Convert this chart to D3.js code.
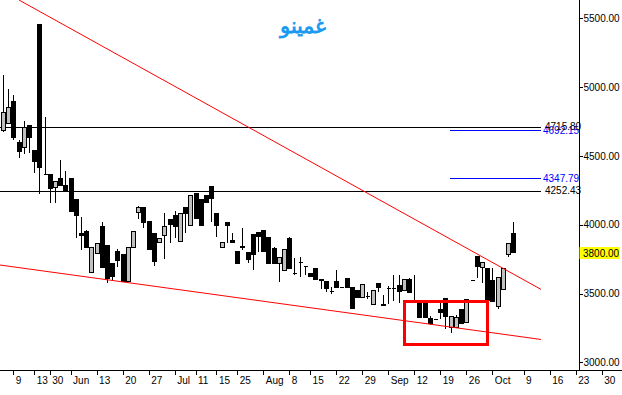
<!DOCTYPE html>
<html><head><meta charset="utf-8">
<script src="https://cdn.jsdelivr.net/npm/d3@7"></script>
<style>
html,body{margin:0;padding:0;background:#fff;}
svg{display:block;}
text{font-family:"Liberation Sans",Arial,sans-serif;}
</style>
</head><body>
<svg id="chart" width="622" height="395"></svg>
<script>
// ---------- DATA ----------
const title = "غمینو";
const opens  = [4688,4739,4899,4601,4565,4724,4543,5458,4368,4368,4274,4339,4288,4339,4187,3940,3954,3656,3794,3990,3852,3722,3809,3787,3591,3838,4092,4129,4027,3940,3874,3925,4041,4070,3881,4129,3998,4230,4187,4216,4281,4085,3838,4020,3889,3809,3845,3802,3932,3947,3961,3911,3831,3722,3671,3903,3649,3729,3700,3649,3685,3605,3591,3518,3591,3547,3613,3547,3525,3475,3482,3424,3576,3424,3540,3540,3562,3525,3605,3453,3445,3453,3322,3315,3387,3467,3257,3257,3387,3293,3598,3772,3693,3685,3598,3409,3533,3787,3940];
const highs  = [5088,4986,4942,4615,4754,4724,4543,5458,4783,4368,4318,4470,4390,4339,4187,4056,3961,3838,3867,4020,3852,3722,3823,3787,3838,3954,4136,4129,4027,3940,3903,4085,4041,4099,4085,4129,4216,4230,4187,4216,4281,4085,3874,4020,3940,3809,3976,3802,3932,3947,3961,3911,3838,3765,3823,3911,3758,3765,3700,3649,3685,3605,3591,3547,3671,3547,3613,3547,3525,3569,3511,3525,3576,3489,3554,3634,3634,3605,3613,3634,3445,3453,3336,3315,3438,3467,3336,3344,3387,3460,3598,3772,3729,3685,3685,3620,3685,3867,4020];
const lows   = [4680,4739,4623,4492,4521,4528,4383,4230,4368,4165,4165,4288,4245,4099,3911,3823,3838,3656,3794,3693,3584,3598,3700,3591,3591,3838,4049,3983,3823,3707,3874,3758,3874,3911,3881,3947,3998,4049,3998,4165,4027,3918,3838,3874,3874,3722,3823,3729,3678,3809,3809,3722,3722,3591,3671,3685,3642,3627,3642,3627,3605,3540,3518,3504,3547,3547,3547,3395,3475,3475,3467,3424,3518,3416,3431,3453,3438,3525,3511,3445,3329,3329,3278,3315,3322,3249,3220,3257,3286,3293,3598,3620,3584,3453,3445,3395,3533,3772,3800];
const closes = [4819,4855,4637,4535,4710,4637,4463,4419,4368,4267,4318,4288,4245,4099,4070,3925,3838,3838,3867,3693,3613,3627,3743,3591,3838,3954,4129,4020,3823,3736,3903,3990,4005,3990,4085,4085,4216,4049,3998,4165,4194,3998,3874,3998,3874,3722,3838,3751,3787,3918,3809,3722,3722,3765,3823,3685,3649,3729,3700,3627,3605,3598,3540,3518,3547,3547,3547,3395,3475,3569,3482,3525,3547,3416,3540,3540,3518,3605,3511,3453,3329,3329,3286,3315,3366,3336,3336,3329,3286,3460,3598,3700,3729,3453,3445,3620,3685,3867,3800];

const xTickIndex  = [2,6,9,13,18,23,28,33,37,41,45,50,55,59,64,69,74,79,84,89,94,100,105,110,115];
const xTickLabels = ["9","13","30","Jun","13","20","27","Jul","11","15","25","Aug","8","15","22","29","Sep","12","19","26","Oct","9","16","23","30"];
const yTicks = [3000,3500,4000,4500,5000,5500];

// horizontal levels: value, start index (black = full length, blue = short)
const blackLevels = [4715.80, 4252.43];
const blackLevelStart = [-1, -1];
const blueLevels = [4692.15, 4347.79];
const blueLevelStart = [85.9, 85.9];
const levelEnd = 103.3;

// trend lines: [index, price] pairs
const upperTrend = [[3.09, 5633], [103.34, 3530]];
const lowerTrend = [[-0.56, 3707], [103.34, 3166]];
// highlighted box: index range & price range
const boxIndex = [77.2, 93.0];
const boxPrice = [3445, 3126];

// ---------- SCALES ----------
const W = 622, H = 395;
const axisX = 579.5, axisY = 370.5;
const x = d3.scaleLinear().domain([2, 115]).range([13.3, 601.7]);
const y = d3.scaleLinear().domain([3000, 5500]).range([362.3, 18.3]);

const svg = d3.select("#chart");
svg.append("rect").attr("width", W).attr("height", H).attr("fill", "#fff");

svg.append("defs").append("clipPath").attr("id", "plot")
  .append("rect").attr("x", 0).attr("y", 0).attr("width", axisX).attr("height", axisY);

const plot = svg.append("g").attr("clip-path", "url(#plot)");

// level lines
const lvl = plot.append("g").attr("shape-rendering", "crispEdges");
blackLevels.forEach((v, k) => {
  const yy = Math.round(y(v)) + 1.5;
  lvl.append("line").attr("x1", Math.max(0, x(blackLevelStart[k]))).attr("x2", x(levelEnd))
    .attr("y1", yy).attr("y2", yy).attr("stroke", "#000").attr("stroke-width", 1);
});
blueLevels.forEach((v, k) => {
  const yy = Math.round(y(v)) + 1.5;
  lvl.append("line").attr("x1", x(blueLevelStart[k])).attr("x2", x(levelEnd))
    .attr("y1", yy).attr("y2", yy).attr("stroke", "#0000ff").attr("stroke-width", 1);
});

// candles
const idx = d3.range(opens.length);
const cg = plot.append("g").attr("shape-rendering", "crispEdges");
idx.forEach(i => {
  const cx = Math.round(x(i));
  const o = opens[i], c = closes[i], hi = highs[i], lo = lows[i];
  const top = Math.round(y(Math.max(o, c))) + 0.5;
  const bot = Math.round(y(Math.min(o, c))) + 0.5;
  cg.append("line").attr("x1", cx + 0.5).attr("x2", cx + 0.5)
    .attr("y1", Math.round(y(hi))).attr("y2", Math.round(y(lo)) + 1)
    .attr("stroke", "#000").attr("stroke-width", 1);
  const up = c > o;
  const x0 = cx - 2 + 0.5, x1 = cx + 2 + 0.5;
  cg.append("path")
    .attr("d", `M${x0},${top}H${x1}V${bot}H${x0}Z`)
    .attr("fill", up ? "#c0c0c0" : "#000")
    .attr("stroke", "#000").attr("stroke-width", 1);
});

// trend lines
const line = d3.line().x(d => x(d[0])).y(d => y(d[1]));
plot.append("path").attr("d", line(upperTrend)).attr("fill", "none")
  .attr("stroke", "#ff0000").attr("stroke-width", 1);
plot.append("path").attr("d", line(lowerTrend)).attr("fill", "none")
  .attr("stroke", "#ff0000").attr("stroke-width", 1);

// highlight box
plot.append("rect")
  .attr("x", x(boxIndex[0])).attr("y", y(boxPrice[0]))
  .attr("width", x(boxIndex[1]) - x(boxIndex[0]))
  .attr("height", y(boxPrice[1]) - y(boxPrice[0]))
  .attr("fill", "none").attr("stroke", "#ff0000").attr("stroke-width", 3)
  .attr("shape-rendering", "crispEdges");

// level labels
const lblG = svg.append("g").attr("font-size", "10px");
blueLevels.forEach(v => {
  lblG.append("text").attr("x", 543).attr("y", y(v) + 1.5).attr("dy", "0.35em")
    .attr("fill", "#0000ff").text(v.toFixed(2));
});
blackLevels.forEach(v => {
  lblG.append("text").attr("x", 545).attr("y", y(v) + 0.5).attr("dy", "0.35em")
    .attr("fill", "#000").text(v.toFixed(2));
});

// title
svg.append("text").attr("x", 303).attr("y", 33).attr("text-anchor", "middle")
  .attr("font-family", "DejaVu Sans").attr("font-weight", "bold").attr("font-size", "21px")
  .attr("fill", "#1a9af0").text(title);

// axes
const ax = svg.append("g").attr("shape-rendering", "crispEdges");
ax.append("line").attr("x1", axisX).attr("x2", axisX).attr("y1", 0).attr("y2", axisY)
  .attr("stroke", "#000");
ax.append("line").attr("x1", 0).attr("x2", W).attr("y1", axisY).attr("y2", axisY)
  .attr("stroke", "#000");

const yAx = svg.append("g").attr("transform", `translate(${axisX},0)`)
  .call(d3.axisRight(y).tickValues(yTicks).tickSize(3).tickPadding(1).tickFormat(d => d.toFixed(2)));
yAx.select(".domain").remove();
yAx.selectAll("line").attr("shape-rendering", "crispEdges");
yAx.selectAll("text").attr("font-family", "Liberation Sans").attr("font-size", "10px").attr("fill", "#000");

// current price marker
const last = closes[closes.length - 1];
const py = y(last);
svg.append("rect").attr("x", axisX).attr("y", Math.round(py) - 5).attr("width", 40).attr("height", 12)
  .attr("fill", "#ffff00");
svg.append("text").attr("x", 583).attr("y", py + 1).attr("dy", "0.35em")
  .attr("font-size", "10px").attr("fill", "#000").text(last.toFixed(2));

const xAx = svg.append("g").attr("transform", `translate(0,${axisY})`)
  .call(d3.axisBottom(x).tickValues(xTickIndex).tickSize(4).tickFormat((d, k) => xTickLabels[k]));
xAx.select(".domain").remove();
xAx.selectAll("line").attr("shape-rendering", "crispEdges");
xAx.selectAll("text").attr("font-family", "Liberation Sans").attr("font-size", "10px")
  .attr("fill", "#000").attr("text-anchor", "start").attr("x", 2).attr("y", 6).attr("dy", "0.71em");
</script>
</body></html>
